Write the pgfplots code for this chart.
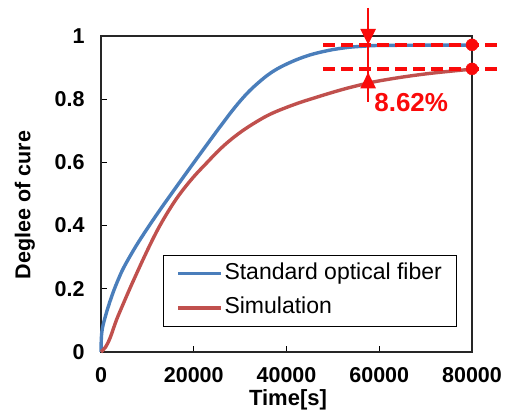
\documentclass[border=0pt]{standalone}
\usepackage{pgfplots}
\pgfplotsset{compat=1.18}
\usepackage{fontspec}
\setmainfont{Liberation Sans}
\usetikzlibrary{arrows.meta}

\definecolor{cblue}{RGB}{74,126,187}
\definecolor{cred}{RGB}{192,80,77}
\definecolor{annot}{RGB}{250,10,10}

\begin{document}
\begin{tikzpicture}
% fixed page frame, axis box sits at (0,0)-(371pt,316pt)
\path[use as bounding box] (-101pt,-62pt) rectangle (408pt,352pt);
\begin{axis}[
    scale only axis,
    width=371pt, height=316pt,
    xmin=0, xmax=80000, ymin=0, ymax=1,
    xtick={0,20000,40000,60000,80000},
    ytick={0,0.2,0.4,0.6,0.8,1},
    scaled x ticks=false,
    tick pos=left, tick align=inside,
    major tick length=6pt,
    every tick/.style={black, line width=1.2pt},
    axis line style={black!85, line width=1.3pt},
    /pgf/number format/1000 sep={},
    /pgf/number format/assume math mode=true,
    ticklabel style={font=\fontsize{21.5}{24}\selectfont\bfseries},
    xticklabel style={yshift=-12pt},
    yticklabel style={xshift=-13pt},
    xlabel={Time[s]},
    ylabel={Deglee of cure},
    every axis x label/.style={at={(rel axis cs:0.504,-0.152)}, anchor=center,
        font=\fontsize{22}{24}\selectfont\bfseries},
    every axis y label/.style={at={(rel axis cs:-0.205,0.465)}, anchor=center, rotate=90,
        font=\fontsize{21.5}{24}\selectfont\bfseries},
    clip=false,
    legend cell align=left,
    legend image code/.code={\draw[#1] (0pt,0pt) -- (43pt,0pt);},
    legend style={at={(rel axis cs:0.167,0.079)}, anchor=south west,
        draw=black, line width=1.3pt, inner xsep=13pt, inner ysep=1pt,
        font=\fontsize{23}{26}\selectfont,
        nodes={inner xsep=1.5pt, inner ysep=6.5pt, text height=16.5pt, text depth=5pt}},
]
\addplot[cblue, line width=3.4pt, smooth, tension=0.6] coordinates {
    (0,0) (80,0.045) (300,0.075) (800,0.105) (1600,0.145) (2700,0.192)
    (3800,0.232) (5000,0.27) (7500,0.334) (10000,0.391) (12500,0.445)
    (15000,0.497) (20000,0.599) (25000,0.6995) (26000,0.719) (28000,0.758)
    (30000,0.794) (32000,0.826) (34000,0.853) (36000,0.877) (38000,0.896)
    (40000,0.911) (42000,0.924) (44000,0.935) (46000,0.944) (48000,0.951)
    (50000,0.957) (52000,0.9615) (54000,0.965) (57000,0.968) (60000,0.970)
    (70000,0.971) (80000,0.971)
};
\addlegendentry{Standard optical fiber}
\addplot[cred, line width=3.4pt, smooth, tension=0.6] coordinates {
    (0,0) (1000,0.016) (2000,0.046) (3300,0.1) (4700,0.149) (6200,0.2)
    (7700,0.249) (9300,0.3) (11000,0.352) (12700,0.4) (14800,0.452)
    (17000,0.5) (19900,0.553) (22900,0.6) (25400,0.638) (28000,0.672)
    (31000,0.705) (34500,0.737) (37000,0.756) (40000,0.774) (43000,0.79)
    (46000,0.804) (50000,0.822) (53400,0.836) (57000,0.849) (60000,0.858)
    (65000,0.87) (70000,0.88) (75000,0.888) (80000,0.895)
};
\addlegendentry{Simulation}

% annotation: levels at the end of the run
\addplot[annot, line width=3.8pt, dash pattern=on 12pt off 6pt, forget plot] coordinates {
    (47900,0.972) (85700,0.972)
};
\addplot[annot, line width=3.8pt, dash pattern=on 12pt off 6pt, forget plot] coordinates {
    (47900,0.896) (85700,0.896)
};
\addplot[only marks, mark=*, mark size=6pt, annot, forget plot] coordinates {
    (80000,0.972) (80000,0.896)
};
\draw[annot, line width=2.5pt] (axis cs:57600,1.089) -- (axis cs:57600,0.79);
\draw[annot, line width=2.5pt, -{Triangle[length=16pt, width=15pt]}]
    (axis cs:57600,1.02) -- (axis cs:57600,0.972);
\draw[annot, line width=2.5pt, -{Triangle[length=16pt, width=15pt]}]
    (axis cs:57600,0.84) -- (axis cs:57600,0.885);
\node[annot, anchor=west, font=\fontsize{26}{28}\selectfont\bfseries, inner sep=0pt]
    at (axis cs:58900,0.788) {8.62\%};
\end{axis}
\end{tikzpicture}
\end{document}
